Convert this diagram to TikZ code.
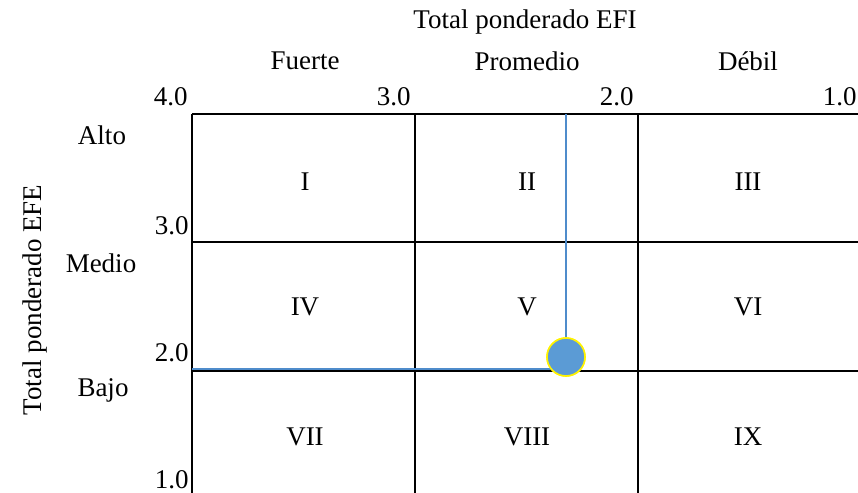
\documentclass[tikz,border=0pt]{standalone}
\usepackage{fontspec}
\setmainfont{Liberation Serif}
\definecolor{ptblue}{HTML}{5B9BD5}
\definecolor{lnblue}{HTML}{4F8CCB}
\begin{document}
\begin{tikzpicture}[x=0.5pt,y=-0.5pt,
  lbl/.style={inner sep=0pt,font=\fontsize{13.5pt}{16pt}\selectfont},
  num/.style={lbl,anchor=east},
  grid/.style={line width=1pt,black},
  guide/.style={line width=0.6pt,lnblue}]
\useasboundingbox (0,0) rectangle (858,493);
% grid
\draw[grid] (192,114) -- (858,114);
\draw[grid] (192,242) -- (858,242);
\draw[grid] (192,370.5) -- (858,370.5);
\draw[grid] (192,114) -- (192,493);
\draw[grid] (415,114) -- (415,493);
\draw[grid] (638,114) -- (638,493);
% headings
\node[lbl] (efi) at (525,22) {Total ponderado EFI};
\node[lbl] (fuerte) at (305,61) {Fuerte};
\node[lbl] (prom) at (527,61) {Promedio};
\node[lbl] (debil) at (748,61) {Débil};
\node[lbl,rotate=90] (efe) at (35,300) {Total ponderado EFE};
\node[lbl] (alto) at (102,135) {Alto};
\node[lbl] (medio) at (101,263) {Medio};
\node[lbl] (bajo) at (103,390) {Bajo};
% axis numbers
\node[num] (x4) at (188,97) {4.0};
\node[num] (x3) at (411,97) {3.0};
\node[num] (x2) at (634,97) {2.0};
\node[num] (x1) at (857,97) {1.0};
\node[num] (y3) at (189,226) {3.0};
\node[num] (y2) at (189,353) {2.0};
\node[num] (y1) at (189,480) {1.0};
% cells
\node[lbl] (c1) at (305,182) {I};
\node[lbl] (c2) at (527,182) {II};
\node[lbl] (c3) at (748,182) {III};
\node[lbl] (c4) at (305,307) {IV};
\node[lbl] (c5) at (527,307) {V};
\node[lbl] (c6) at (748,307) {VI};
\node[lbl] (c7) at (305,437) {VII};
\node[lbl] (c8) at (527,437) {VIII};
\node[lbl] (c9) at (748,437) {IX};
% point and guides
\coordinate (top) at (566,114);
\coordinate (left) at (192,369);
\node[circle,fill=ptblue,draw=yellow,line width=0.8pt,minimum size=19pt,inner sep=0pt] (pt) at (566,357) {};
\draw[guide] (top) -- (pt.north);
\draw[guide,line width=0.8pt] (left) -- (left -| pt.south west);
\node[circle,fill=ptblue,draw=yellow,line width=0.8pt,minimum size=19pt,inner sep=0pt] at (pt) {};
\end{tikzpicture}
\end{document}
